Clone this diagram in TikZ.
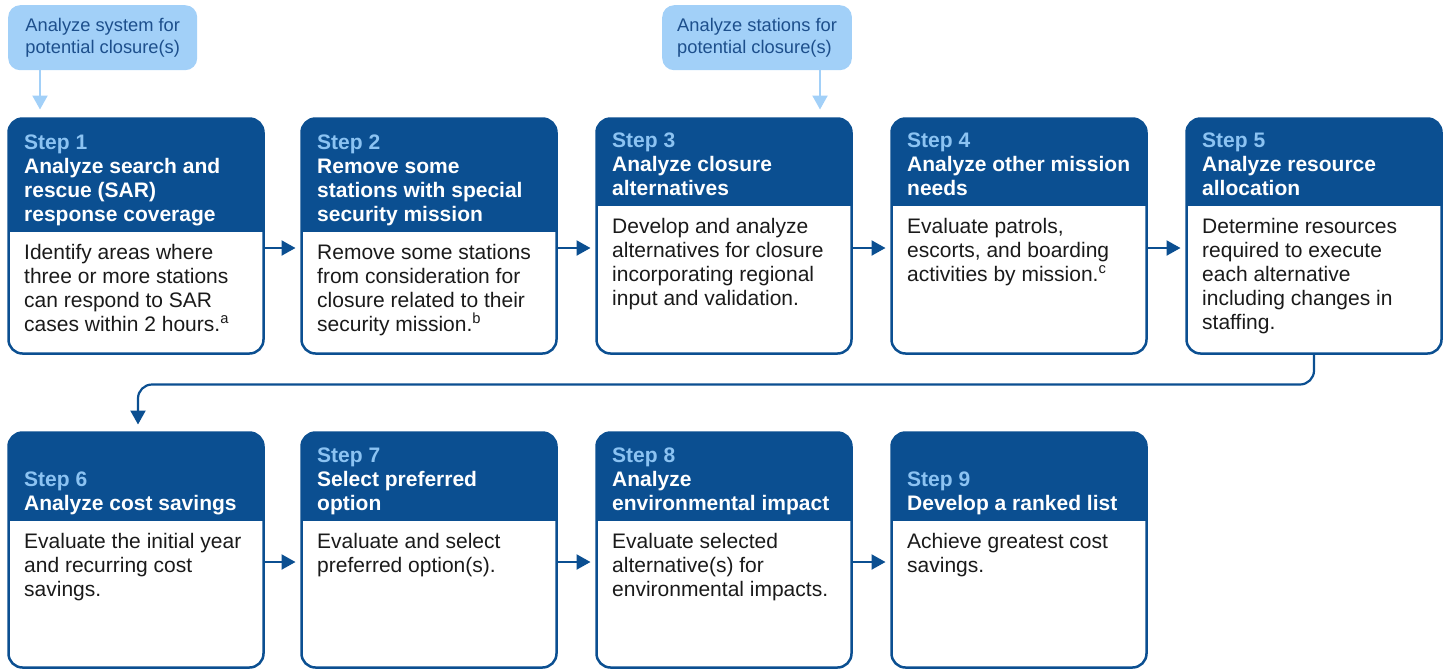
\documentclass[tikz,border=0pt]{standalone}
\usepackage{fontspec}
\setmainfont{Liberation Sans}
\usetikzlibrary{arrows.meta,calc}
\definecolor{hdrblue}{HTML}{0B4F91}
\definecolor{steplbl}{HTML}{8CC3F2}
\definecolor{callblue}{HTML}{A2D0F8}
\definecolor{calltext}{HTML}{1D4F8C}
\definecolor{bodygray}{HTML}{1A1A1A}
\tikzset{
	stepbox/.style={draw=hdrblue, line width=2.5pt, rounded corners=14pt, minimum width=255pt, minimum height=235pt, inner sep=0pt, outer sep=0pt, anchor=north west},
	hdrtext/.style={text=white, font=\fontsize{21}{24}\selectfont\bfseries, align=left, inner sep=0pt, anchor=south west},
	bodytext/.style={text=bodygray, font=\fontsize{21}{24}\selectfont, align=left, inner sep=0pt, anchor=north west},
	callout/.style={fill=callblue, rounded corners=12pt, text=calltext, font=\fontsize{18.3}{22}\selectfont, align=left, inner xsep=15pt, inner ysep=0pt, minimum width=189pt, minimum height=65pt, anchor=north west},
	flow/.style={draw=hdrblue, line width=2.2pt, -{Triangle[length=14pt,width=15pt]}},
	callflow/.style={draw=callblue, line width=2.2pt, -{Triangle[length=14pt,width=15pt]}}
}
\begin{document}
\begin{tikzpicture}[x=1pt, y=-1pt]
	\useasboundingbox (0,0) rectangle (1447,670);
	\node[callout] (c1) at (8,5) {Analyze system for\\potential closure(s)};
	\node[callout] (c2) at (662,5) {Analyze stations for\\potential closure(s)};
	\foreach \n/\x/\y/\h/\ttl/\bd in {
		1/8.5/118.5/113/{Analyze search and\\rescue (SAR)\\response coverage}/{Identify areas where\\three or more stations\\can respond to SAR\\cases within 2 hours.\textsuperscript{a}},
		2/301.5/118.5/113/{Remove some\\stations with special\\security mission}/{Remove some stations\\from consideration for\\closure related to their\\security mission.\textsuperscript{b}},
		3/596.5/118.5/87/{Analyze closure\\alternatives}/{Develop and analyze\\alternatives for closure\\incorporating regional\\input and validation.},
		4/891.5/118.5/87/{Analyze other mission\\needs}/{Evaluate patrols,\\escorts, and boarding\\activities by mission.\textsuperscript{c}},
		5/1186.5/118.5/87/{Analyze resource\\allocation}/{Determine resources\\required to execute\\each alternative\\including changes in\\staffing.},
		6/8.5/432.5/88/{Analyze cost savings}/{Evaluate the initial year\\and recurring cost\\savings.},
		7/301.5/432.5/88/{Select preferred\\option}/{Evaluate and select\\preferred option(s).},
		8/596.5/432.5/88/{Analyze\\environmental impact}/{Evaluate selected\\alternative(s) for\\environmental impacts.},
		9/891.5/432.5/88/{Develop a ranked list}/{Achieve greatest cost\\savings.}}
	{
		\node[stepbox] (s\n) at (\x,\y) {};
		\begin{scope}
			\clip[rounded corners=14pt] (s\n.north west) rectangle (s\n.south east);
			\fill[hdrblue] (s\n.north west) rectangle ($(s\n.north east)+(0,\h)$);
		\end{scope}
		\node[hdrtext] (t\n) at ($(s\n.north west)+(15.5,\h-3)$) {{\color{steplbl}Step \n}\\\ttl\strut};
		\node[bodytext] (b\n) at ($(s\n.north west)+(15.5,\h+11)$) {\strut\bd};
	}
	\foreach \a/\b in {1/2,2/3,3/4,4/5,6/7,7/8,8/9}
		\draw[flow] ($(s\a.east)+(0,12)$) -- ($(s\b.west)+(-6,12)$);
	\draw[flow, rounded corners=14pt] (s5.south) -- ++(0,31) -| ($(s6.north west)+(129.5,-8)$);
	\draw[callflow] ($(c1.south west)+(32,0)$) coordinate (k1) -- ($(k1 |- s1.north)+(0,-9)$);
	\draw[callflow] ($(c2.south west)+(158,0)$) coordinate (k2) -- ($(k2 |- s3.north)+(0,-9)$);
\end{tikzpicture}
\end{document}
